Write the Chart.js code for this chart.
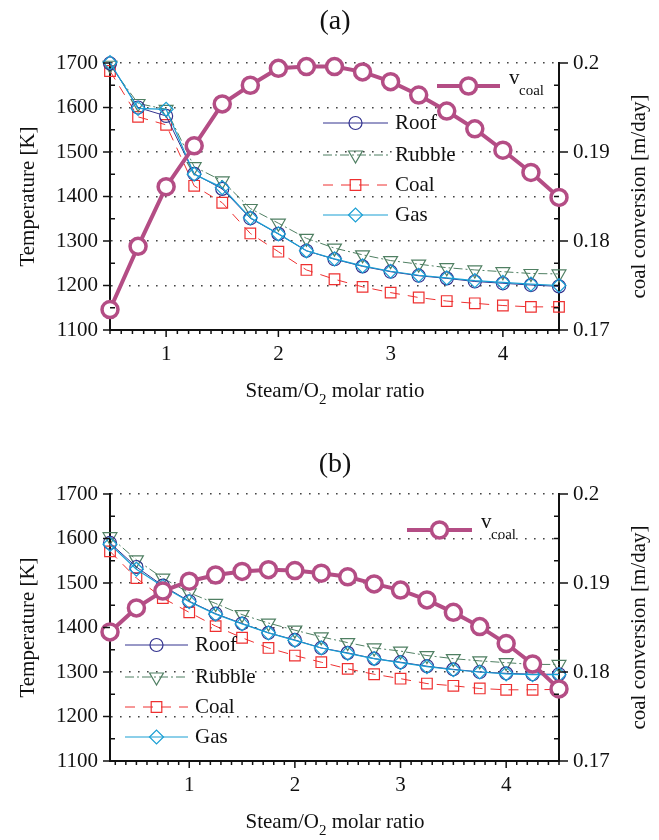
<!DOCTYPE html>
<html>
<head>
<meta charset="utf-8">
<script src="https://cdn.jsdelivr.net/npm/chart.js@4/dist/chart.umd.min.js"></script>
<style>
  body { margin: 0; background: #fff; }
  canvas { display: block; }
</style>
</head>
<body>
<canvas id="chartA" width="659" height="420"></canvas>
<canvas id="chartB" width="659" height="420"></canvas>
<script>
    /*global Chart*/
    // (a)
    var ratioA = [0.5, 0.75, 1, 1.25, 1.5, 1.75, 2, 2.25, 2.5, 2.75, 3, 3.25, 3.5, 3.75, 4, 4.25, 4.5];
    var roofA = [1699, 1600, 1581, 1451, 1417, 1351, 1316, 1278, 1259, 1243, 1231, 1222, 1216, 1209, 1205, 1201, 1198];
    var rubbleA = [1695, 1609, 1596, 1467, 1435, 1373, 1340, 1306, 1284, 1269, 1256, 1248, 1240, 1235, 1231, 1227, 1226];
    var coalA = [1682, 1579, 1561, 1424, 1386, 1317, 1276, 1235, 1214, 1197, 1184, 1173, 1165, 1160, 1155, 1152, 1152];
    var gasA = [1701, 1598, 1596, 1450, 1420, 1352, 1316, 1278, 1260, 1244, 1232, 1223, 1217, 1211, 1207, 1203, 1200];
    var vcoalA = [0.1723, 0.1794, 0.1861, 0.1907, 0.1954, 0.1975, 0.1994, 0.1996, 0.1996, 0.1990, 0.1979, 0.1964, 0.1946, 0.1926, 0.1902, 0.1877, 0.1849];

    // (b)
    var ratioB = [0.25, 0.5, 0.75, 1, 1.25, 1.5, 1.75, 2, 2.25, 2.5, 2.75, 3, 3.25, 3.5, 3.75, 4, 4.25, 4.5];
    var roofB = [1590, 1536, 1494, 1459, 1431, 1409, 1388, 1372, 1354, 1343, 1330, 1322, 1313, 1306, 1300, 1297, 1295, 1295];
    var rubbleB = [1604, 1552, 1511, 1478, 1454, 1429, 1410, 1394, 1379, 1366, 1354, 1347, 1337, 1330, 1325, 1321, 1317, 1317];
    var coalB = [1571, 1511, 1466, 1434, 1403, 1377, 1354, 1337, 1322, 1307, 1295, 1285, 1274, 1269, 1263, 1260, 1260, 1261];
    var gasB = [1587, 1531, 1492, 1458, 1430, 1408, 1388, 1371, 1354, 1342, 1330, 1321, 1312, 1305, 1300, 1296, 1294, 1294];
    var vcoalB = [0.1845, 0.1872, 0.1891, 0.1902, 0.1909, 0.1913, 0.1915, 0.1914, 0.1911, 0.1907, 0.1899, 0.1892, 0.1881, 0.1867, 0.1851, 0.1832, 0.1809, 0.1781];

    var tempTicks = [1100, 1200, 1300, 1400, 1500, 1600, 1700];
    var convTicks = [0.17, 0.18, 0.19, 0.2];
    var xTicks = [1, 2, 3, 4];

    var SERIF = '"Liberation Serif", "Times New Roman", serif';
    Chart.defaults.font.family = SERIF;
    Chart.defaults.color = '#111';

    function pts(xs, ys) {
        return xs.map(function (x, i) { return {x: x, y: ys[i]}; });
    }

    var styles = {
        vcoal: {color: '#b44d85', width: 4, dash: [], point: 'circle', r: 8, pw: 3.5, fill: '#fff'},
        roof: {color: '#33338f', width: 1, dash: [], point: 'circle', r: 6.5, pw: 1.2, fill: 'rgba(0,0,0,0)'},
        rubble: {color: '#4f7f62', width: 1, dash: [9, 3, 2, 3], point: 'triangle', r: 8, pw: 1.2, fill: 'rgba(0,0,0,0)', rot: 180},
        coal: {color: '#ee3030', width: 1, dash: [10, 8], point: 'rect', r: 7.5, pw: 1.2, fill: 'rgba(0,0,0,0)'},
        gas: {color: '#1a9fd4', width: 1.2, dash: [], point: 'rectRot', r: 7, pw: 1.2, fill: 'rgba(0,0,0,0)'}
    };

    function ds(label, key, data, axis) {
        var s = styles[key];
        return {
            label: label, data: data, yAxisID: axis, clip: false,
            borderColor: s.color, borderWidth: s.width, borderDash: s.dash,
            pointStyle: s.point, pointRadius: s.r, pointBorderWidth: s.pw,
            pointBorderColor: s.color, pointBackgroundColor: s.fill,
            pointRotation: s.rot || 0, tension: 0, fill: false
        };
    }

    function drawSample(ctx, s, x0, x1, y) {
        ctx.save();
        ctx.strokeStyle = s.color;
        ctx.lineWidth = s.width;
        ctx.setLineDash(s.dash);
        ctx.beginPath(); ctx.moveTo(x0, y); ctx.lineTo(x1, y); ctx.stroke();
        ctx.setLineDash([]);
        ctx.lineWidth = s.pw;
        ctx.fillStyle = s.fill;
        Chart.helpers.drawPoint(ctx, {pointStyle: s.point, radius: s.r, rotation: s.rot || 0, borderWidth: s.pw}, (x0 + x1) / 2, y);
        ctx.restore();
    }

    var decorPlugin = {
        id: 'decor',
        afterDraw: function (chart) {
            var o = chart.options.plugins.decor;
            var ctx = chart.ctx;
            var x = chart.scales.x, y = chart.scales.y, y1 = chart.scales.y1;
            var area = chart.chartArea;
            ctx.save();
            ctx.strokeStyle = '#111';
            ctx.lineWidth = 1.5;
            ctx.setLineDash([]);
            var v, p;
            // left axis ticks: major outward, minor inward
            for (v = 1100; v <= 1700; v += 50) {
                p = y.getPixelForValue(v);
                ctx.beginPath();
                if (v % 100 === 0) { ctx.moveTo(area.left - 7, p); ctx.lineTo(area.left, p); }
                else { ctx.moveTo(area.left, p); ctx.lineTo(area.left + 5, p); }
                ctx.stroke();
            }
            // right axis ticks
            for (var k = 0; k <= 12; k++) {
                v = 0.17 + k * 0.0025;
                p = y1.getPixelForValue(v);
                ctx.beginPath();
                if (k % 4 === 0) { ctx.moveTo(area.right, p); ctx.lineTo(area.right + 9, p); }
                else { ctx.moveTo(area.right, p); ctx.lineTo(area.right - 5, p); }
                ctx.stroke();
            }
            // x axis ticks
            for (k = Math.ceil(x.min * 10 - 1e-6); k <= Math.round(x.max * 10); k++) {
                p = x.getPixelForValue(k / 10);
                ctx.beginPath();
                ctx.moveTo(p, area.bottom);
                ctx.lineTo(p, area.bottom + (k % 10 === 0 ? 7 : 4));
                ctx.stroke();
            }

            ctx.fillStyle = '#111';
            // panel title
            ctx.font = '28px ' + SERIF;
            ctx.textAlign = 'center';
            ctx.textBaseline = 'middle';
            ctx.fillText(o.title, 335, o.titleY);

            // axis titles
            ctx.font = '21px ' + SERIF;
            var cy = (area.top + area.bottom) / 2;
            ctx.save();
            ctx.translate(28, cy);
            ctx.rotate(-Math.PI / 2);
            ctx.fillText('Temperature [K]', 0, 0);
            ctx.restore();
            ctx.save();
            ctx.translate(639, cy);
            ctx.rotate(-Math.PI / 2);
            ctx.fillText('coal conversion [m/day]', 0, 0);
            ctx.restore();

            // x title with subscript
            ctx.textAlign = 'left';
            var t1 = 'Steam/O', t2 = '2', t3 = ' molar ratio';
            ctx.font = '21px ' + SERIF;
            var w1 = ctx.measureText(t1).width, w3 = ctx.measureText(t3).width;
            ctx.font = '15px ' + SERIF;
            var w2 = ctx.measureText(t2).width;
            var sx = 335 - (w1 + w2 + w3) / 2;
            ctx.font = '21px ' + SERIF;
            ctx.fillText(t1, sx, o.xTitleY);
            ctx.fillText(t3, sx + w1 + w2, o.xTitleY);
            ctx.font = '15px ' + SERIF;
            ctx.fillText(t2, sx + w1, o.xTitleY + 9);

            // legends
            var L = o.legendV;
            drawSample(ctx, styles.vcoal, L.x0, L.x1, L.y);
            ctx.fillStyle = '#111';
            ctx.font = '21px ' + SERIF;
            ctx.fillText('v', L.x1 + 9, L.y - 8);
            ctx.font = '15px ' + SERIF;
            ctx.fillText('coal', L.x1 + 19, L.y + 5);

            var G = o.legendT;
            var names = ['Roof', 'Rubble', 'Coal', 'Gas'];
            var keys = ['roof', 'rubble', 'coal', 'gas'];
            for (var i = 0; i < 4; i++) {
                drawSample(ctx, styles[keys[i]], G.x0, G.x1, G.ys[i]);
                ctx.fillStyle = '#111';
                ctx.font = '21px ' + SERIF;
                ctx.fillText(names[i], G.x1 + 7, G.ys[i]);
            }
            ctx.restore();
        }
    };

    function makeChart(id, xs, vcoal, roof, rubble, coal, gas, xmin, top, opts) {
        var chartData = {
            datasets: [
                ds('v_coal', 'vcoal', pts(xs, vcoal), 'y1'),
                ds('Gas', 'gas', pts(xs, gas), 'y'),
                ds('Roof', 'roof', pts(xs, roof), 'y'),
                ds('Rubble', 'rubble', pts(xs, rubble), 'y'),
                ds('Coal', 'coal', pts(xs, coal), 'y')
            ]
        };
        var tickFont = {family: SERIF, size: 21};
        var chartOptions = {
            responsive: false,
            animation: false,
            layout: {padding: {top: top, left: 0, right: 0, bottom: 0}},
            plugins: {legend: {display: false}, tooltip: {enabled: false}, decor: opts},
            scales: {
                x: {
                    type: 'linear', min: xmin, max: 4.5,
                    afterBuildTicks: function (s) { s.ticks = xTicks.map(function (v) { return {value: v}; }); },
                    ticks: {font: tickFont, color: '#111', padding: 12, maxRotation: 0,
                        callback: function (v) { return String(v); }},
                    grid: {drawOnChartArea: false, drawTicks: false},
                    border: {color: '#111', width: 2},
                    afterFit: function (s) { s.height = 420 - top - 267; }
                },
                y: {
                    position: 'left', min: 1100, max: 1700,
                    afterBuildTicks: function (s) { s.ticks = tempTicks.map(function (v) { return {value: v}; }); },
                    ticks: {font: tickFont, color: '#111', padding: 12,
                        callback: function (v) { return String(v); }},
                    grid: {color: '#444', lineWidth: 1.6, drawTicks: false},
                    border: {color: '#111', width: 2, dash: [1.6, 7.4]},
                    afterFit: function (s) { s.width = 110; }
                },
                y1: {
                    position: 'right', min: 0.17, max: 0.2,
                    afterBuildTicks: function (s) { s.ticks = convTicks.map(function (v) { return {value: v}; }); },
                    ticks: {font: tickFont, color: '#111', padding: 14,
                        callback: function (v) { return String(Math.round(v * 100) / 100); }},
                    grid: {drawOnChartArea: false, drawTicks: false},
                    border: {color: '#111', width: 2},
                    afterFit: function (s) { s.width = 100; }
                }
            }
        };
        var ctx = document.getElementById(id).getContext('2d');
        return new Chart(ctx, {type: 'line', data: chartData, options: chartOptions, plugins: [decorPlugin]});
    }

    makeChart('chartA', ratioA, vcoalA, roofA, rubbleA, coalA, gasA, 0.5, 63, {
        title: '(a)', titleY: 22, xTitleY: 391,
        legendV: {x0: 437, x1: 500, y: 86},
        legendT: {x0: 323, x1: 388, ys: [123, 155, 185, 215]}
    });
    makeChart('chartB', ratioB, vcoalB, roofB, rubbleB, coalB, gasB, 0.25, 74, {
        title: '(b)', titleY: 45, xTitleY: 402,
        legendV: {x0: 407, x1: 472, y: 110},
        legendT: {x0: 125, x1: 188, ys: [225, 257, 287, 317]}
    });
</script>
</body>
</html>
